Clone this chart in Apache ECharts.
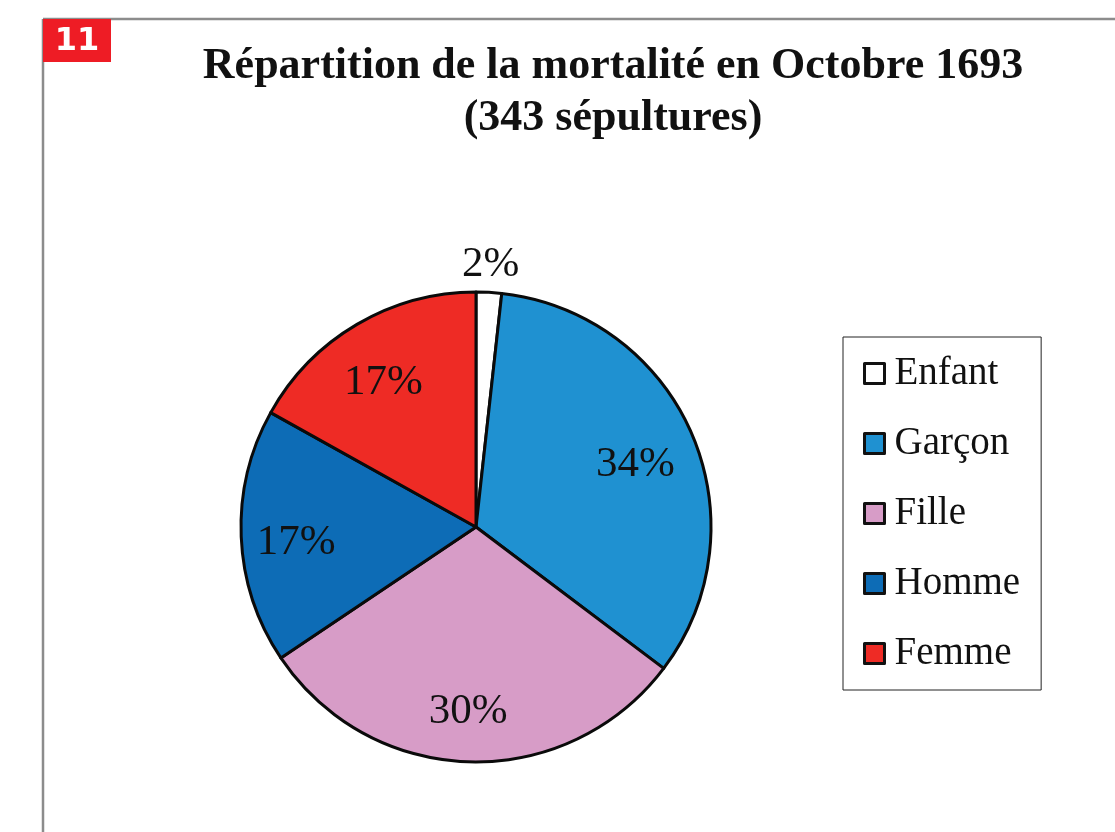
<!DOCTYPE html>
<html>
<head>
<meta charset="utf-8">
<script src="https://cdn.jsdelivr.net/npm/echarts@6/dist/echarts.min.js"></script>
<style>
html,body{margin:0;padding:0;background:#fff;}
#chart{width:1115px;height:832px;}
</style>
</head>
<body>
<div id="chart"></div>
<script>
// Data
const categories = ['Enfant', 'Garçon', 'Fille', 'Homme', 'Femme'];
const burials = [6, 115, 104, 60, 58];
const sliceColors = ['#ffffff', '#1f91d1', '#d79cc7', '#0d6cb6', '#ee2b25'];
const titleLines = ['Répartition de la mortalité en Octobre 1693', '(343 sépultures)'];
const badgeText = '11';

const chart = echarts.init(document.getElementById('chart'));

const CX = 476, CY = 527, R = 235;
const serif = 'Liberation Serif';
const pctFmt = p => Math.round(p.percent) + '%';

const mainData = categories.map((c, i) => ({
  name: c, value: burials[i], itemStyle: { color: sliceColors[i] }
}));
const innerLabelData = categories.map((c, i) => ({
  name: c, value: burials[i], label: { show: i !== 0 }
}));
const outerLabelData = categories.map((c, i) => ({
  name: c, value: burials[i], label: { show: i === 0 }
}));

chart.setOption({
  animation: false,
  backgroundColor: '#fff',
  title: {
    text: titleLines.join('\n'),
    left: 613,
    textAlign: 'center',
    top: 41,
    padding: 0,
    textStyle: {
      fontFamily: serif, fontWeight: 'bold', fontSize: 44, lineHeight: 52, color: '#111'
    }
  },
  legend: {
    orient: 'vertical',
    left: 843,
    top: 337,
    padding: [17, 21, 17, 20],
    itemGap: 31,
    itemWidth: 20,
    itemHeight: 20,
    icon: 'rect',
    borderColor: '#222',
    borderWidth: 1,
    backgroundColor: '#fff',
    selectedMode: false,
    itemStyle: { borderColor: '#111', borderWidth: 3 },
    textStyle: {
      fontFamily: serif, fontSize: 39, lineHeight: 38, color: '#111', padding: [0, 0, 0, 5]
    },
    data: categories
  },
  graphic: [
    { type: 'line', shape: { x1: 43, y1: 19, x2: 1115, y2: 19 }, style: { stroke: '#8c8c8c', lineWidth: 2.5 } },
    { type: 'line', shape: { x1: 43, y1: 19, x2: 43, y2: 832 }, style: { stroke: '#8c8c8c', lineWidth: 2.5 } },
    { type: 'rect', shape: { x: 43, y: 19, width: 68, height: 43 }, style: { fill: '#ee1c25' } },
    { type: 'text', x: 77, y: 42, style: { text: badgeText, fill: '#fff', font: 'bold 32px "DejaVu Sans"', align: 'center', verticalAlign: 'middle' } }
  ],
  series: [
    {
      type: 'pie',
      center: [CX, CY],
      radius: [0, R],
      startAngle: 90,
      clockwise: true,
      silent: true,
      label: { show: false },
      labelLine: { show: false },
      itemStyle: { borderColor: '#0a0a0a', borderWidth: 3 },
      data: mainData
    },
    {
      type: 'pie',
      center: [CX, CY],
      radius: [R * 0.48, R],
      startAngle: 90,
      clockwise: true,
      silent: true,
      itemStyle: { color: 'rgba(0,0,0,0)', borderWidth: 0 },
      label: { position: 'inside', formatter: pctFmt, fontFamily: serif, fontSize: 43, color: '#111', offset: [-3, 8] },
      labelLine: { show: false },
      data: innerLabelData
    },
    {
      type: 'pie',
      center: [CX, CY],
      radius: [R, R + 60],
      startAngle: 90,
      clockwise: true,
      silent: true,
      itemStyle: { color: 'rgba(0,0,0,0)', borderWidth: 0 },
      label: { position: 'inside', formatter: pctFmt, fontFamily: serif, fontSize: 43, color: '#111', offset: [0, 5] },
      labelLine: { show: false },
      data: outerLabelData
    }
  ]
});
</script>
</body>
</html>
